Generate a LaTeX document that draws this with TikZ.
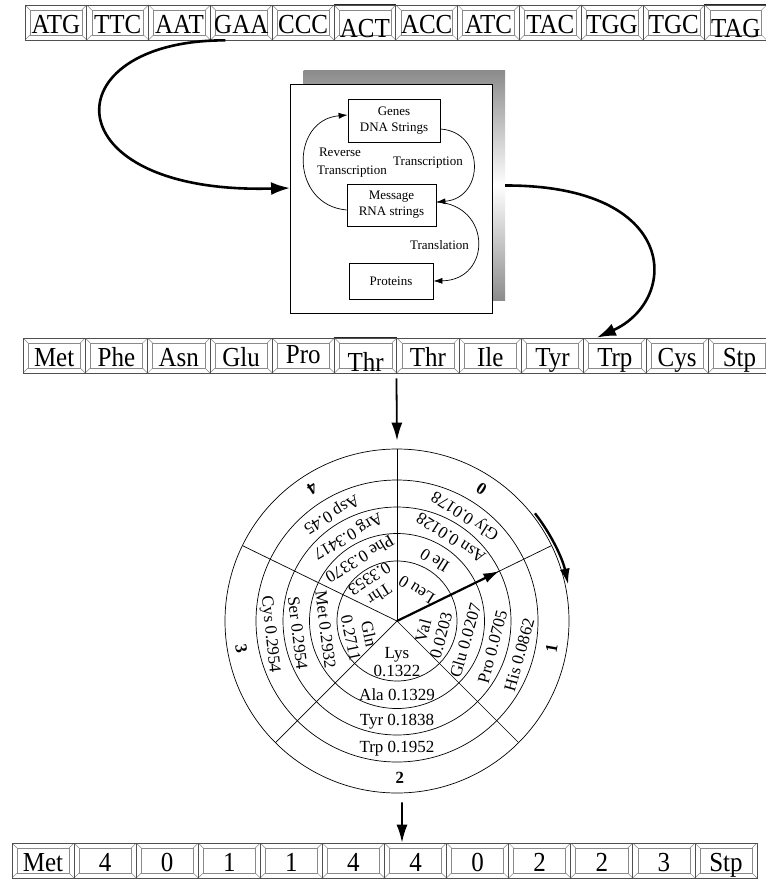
\documentclass[tikz,border=0pt]{standalone}
\usepackage{graphicx}
\usepackage{fontspec}
\setmainfont{Liberation Serif}
\usetikzlibrary{arrows.meta}
\definecolor{edge}{HTML}{505050}
\definecolor{bev}{HTML}{8A8A8A}
\newcommand\rowfont{\fontsize{25}{25}\selectfont}
\newcommand\rt[1]{\scalebox{1}[1.1]{\rowfont #1}}
\newcommand\cf{\fontsize{17}{21}\selectfont}
\newcommand\cfi{\fontsize{17}{18.5}\selectfont}
% ring label: name, angle, radius, font, text
\newcommand\rlab[5]{\node[font=#4, inner sep=0pt, rotate={#2+90}] (#1) at (#2:#3) {#5};}
\tikzset{
  bevbox/.style={draw=edge, line width=0.7pt, minimum width=#1, minimum height=35pt,
    inner sep=0pt, text height=28pt, text depth=7pt,
    path picture={
      \draw[bev, line width=0.5pt]
        ([shift={(5pt,5pt)}]path picture bounding box.south west) rectangle
        ([shift={(-5pt,-5pt)}]path picture bounding box.north east);
      \draw[bev, line width=0.5pt]
        (path picture bounding box.south west) -- ++(5pt,5pt)
        (path picture bounding box.south east) -- ++(-5pt,5pt)
        (path picture bounding box.north west) -- ++(5pt,-5pt)
        (path picture bounding box.north east) -- ++(-5pt,-5pt);
    }},
  inbox/.style={draw=black, line width=0.8pt, inner sep=0pt, align=center,
    font=\fontsize{13}{16}\selectfont},
  lab/.style={inner sep=0pt, font=\fontsize{13}{16}\selectfont},
  smallarr/.style={line width=0.7pt, -{Latex[length=9pt,width=6pt]}},
  bigarr/.style={line width=2.6pt, -{Latex[length=19pt,width=13pt]}},
  downarr/.style={line width=1.8pt, -{Latex[length=18pt,width=11pt]}},
  ringline/.style={line width=0.7pt},
  seltop/.style={line width=1.4pt, black!85},
  inlab/.style={font=\cfi, inner sep=0pt, align=center},
}
\begin{document}
\begin{tikzpicture}[x=1pt,y=-1pt]
\fill[white] (0,0) rectangle (765,880);
\useasboundingbox (0,0) rectangle (765,880);

% ---- top row (DNA codons)
\foreach \w/\dy [count=\k from 0] in {ATG/0,TTC/0,AAT/0,GAA/0,CCC/0,ACT/-4,ACC/0,ATC/0,TAC/0,TGG/0,TGC/0,TAG/-4}
  \node[bevbox=61.8pt, text height=29pt, text depth=6pt] (t\k) at ({25+61.8*(\k+0.5)},22.5) {\raisebox{\dy pt}{\rt{\w}}};
\draw[seltop] (t5.north west) -- (t5.north east);
\draw[seltop] (t11.north west) -- (t11.north east);

% ---- protein row
\foreach \w/\dy [count=\k from 0] in {Met/0,Phe/0,Asn/0,Glu/0,Pro/3,Thr/-5,Thr/0,Ile/0,Tyr/0,Trp/0,Cys/0,Stp/0}
  \node[bevbox=62.3pt] (p\k) at ({23+62.3*(\k+0.5)},355.5) {\raisebox{\dy pt}{\rt{\w}}};
\draw[seltop] (p5.north west) -- (p5.north east);

% ---- bottom row
\foreach \w [count=\k from 0] in {Met,4,0,1,1,4,4,0,2,2,3,Stp}
  \node[bevbox=62.08pt] (b\k) at ({12+62.08*(\k+0.5)},860.5) {\rt{\w}};

% ---- central box
\node[minimum width=201.5pt, minimum height=229pt, inner sep=0pt,
      top color=black!45, bottom color=black!45, middle color=white] (shadow) at (404.25,185.5) {};
\node[draw=black, line width=0.8pt, fill=white, minimum width=201.5pt, minimum height=229pt, inner sep=0pt] (wbox) at (391.25,198.5) {};
\node[inbox, minimum width=92pt, minimum height=43pt] (genes) at (394,120.5) {Genes\\DNA Strings};
\node[inbox, minimum width=89pt, minimum height=42pt] (mes) at (391.5,205) {Message\\RNA strings};
\node[inbox, minimum width=84pt, minimum height=36pt] (prot) at (391,281) {Proteins};

\draw[smallarr] ([yshift=-5pt]mes.west) .. controls (290,205) and (290,120) .. ([yshift=5.5pt]genes.west);
\draw[smallarr] ([yshift=-8.5pt]genes.east) .. controls (485,132) and (485,198) .. ([yshift=3pt]mes.east);
\draw[smallarr] ([yshift=3pt]mes.east) .. controls (492,205) and (492,280) .. (prot.east);
\node[lab] (lrev) at (340,152) {Reverse};
\node[lab] (lrtr) at (352,172) {Transcription};
\node[lab] (ltr) at (428,163) {Transcription};
\node[lab] (ltl) at (439.5,245) {Translation};

% ---- big arrows
\draw[bigarr] ([xshift=-16pt]t3.south) .. controls (50,40) and (50,195) .. ([yshift=10.5pt]wbox.west);
\draw[bigarr] (shadow.east) .. controls (680,185) and (680,300) .. ([xshift=-18pt]p9.north);

% ---- wheel
\begin{scope}[shift={(397pt,-621pt)}, x=1pt, y=1pt]
  \node[draw, circle, minimum size=344pt, inner sep=0pt, ringline] (wheel) at (0,0) {};
  \foreach \rr in {60,87.5,114,141} \draw[ringline] (0,0) circle[radius=\rr];
  \foreach \a in {90,26,-45,-135,154} \draw[ringline] (wheel.center) -- (\a:172);

  % ring 2
  \rlab{ile}{58}{71}{\cf}{Ile 0}
  \rlab{phe}{121}{72}{\cf}{Phe 0.3370}
  \rlab{met}{187}{72}{\cf}{Met 0.2932}
  \rlab{ala}{-90}{74}{\cf}{Ala 0.1329}
  \rlab{glu}{-16}{71}{\cf}{Glu 0.0207}
  % ring 3
  \rlab{asn}{57}{99}{\cf}{Asn 0.0128}
  \rlab{arg}{120}{99}{\cf}{Arg 0.3417}
  \rlab{ser}{187}{100}{\cf}{Ser 0.2954}
  \rlab{tyr}{-90}{101}{\cf}{Tyr 0.1838}
  \rlab{pro}{-15}{99}{\cf}{Pro 0.0705}
  % ring 4
  \rlab{gly}{57}{126}{\cf}{Gly 0.0178}
  \rlab{asp}{121.5}{126}{\cf}{Asp 0.45}
  \rlab{cys}{186}{128}{\cf}{Cys 0.2954}
  \rlab{trp}{-90}{128}{\cf}{Trp 0.1952}
  \rlab{his}{-15.5}{127}{\cf}{His 0.0862}
  % outer ring numbers
  \rlab{n0}{57.4}{157}{\cf\bfseries}{0}
  \rlab{n4}{122.6}{157}{\cf\bfseries}{4}
  \rlab{n3}{190}{158}{\cf\bfseries}{3}
  \rlab{n2}{-89}{157}{\cf\bfseries}{2}
  \rlab{n1}{-10}{157}{\cf\bfseries}{1}

  % inner ring
  \node[inlab, rotate=147.6] (leu) at (57.6:36.7) {Leu 0};
  \node[inlab, rotate=212.8] (thr) at (123:41) {Thr\\0.3353};
  \node[inlab, rotate=-78] (gln) at (-37,-15) {Gln\\0.2711};
  \node[inlab] (lys) at (0,-41) {Lys\\0.1322};
  \node[inlab, rotate=75] (val) at (35,-12) {Val\\0.0203};

  \draw[line width=2.2pt, -{Latex[length=16pt,width=10pt]}] (wheel.center) -- (26:114);
  \draw[line width=2.4pt, -{Latex[length=16pt,width=10pt]}] (38:175) arc[start angle=38, end angle=12, radius=175];
\end{scope}

% ---- vertical arrows
\draw[downarr] ([yshift=-5pt]p6.south west) -- ([yshift=8pt]wheel.north);
\draw[downarr] ([xshift=5pt,yshift=-9pt]wheel.south) -- ([xshift=-13.5pt]b6.north);
\end{tikzpicture}
\end{document}
